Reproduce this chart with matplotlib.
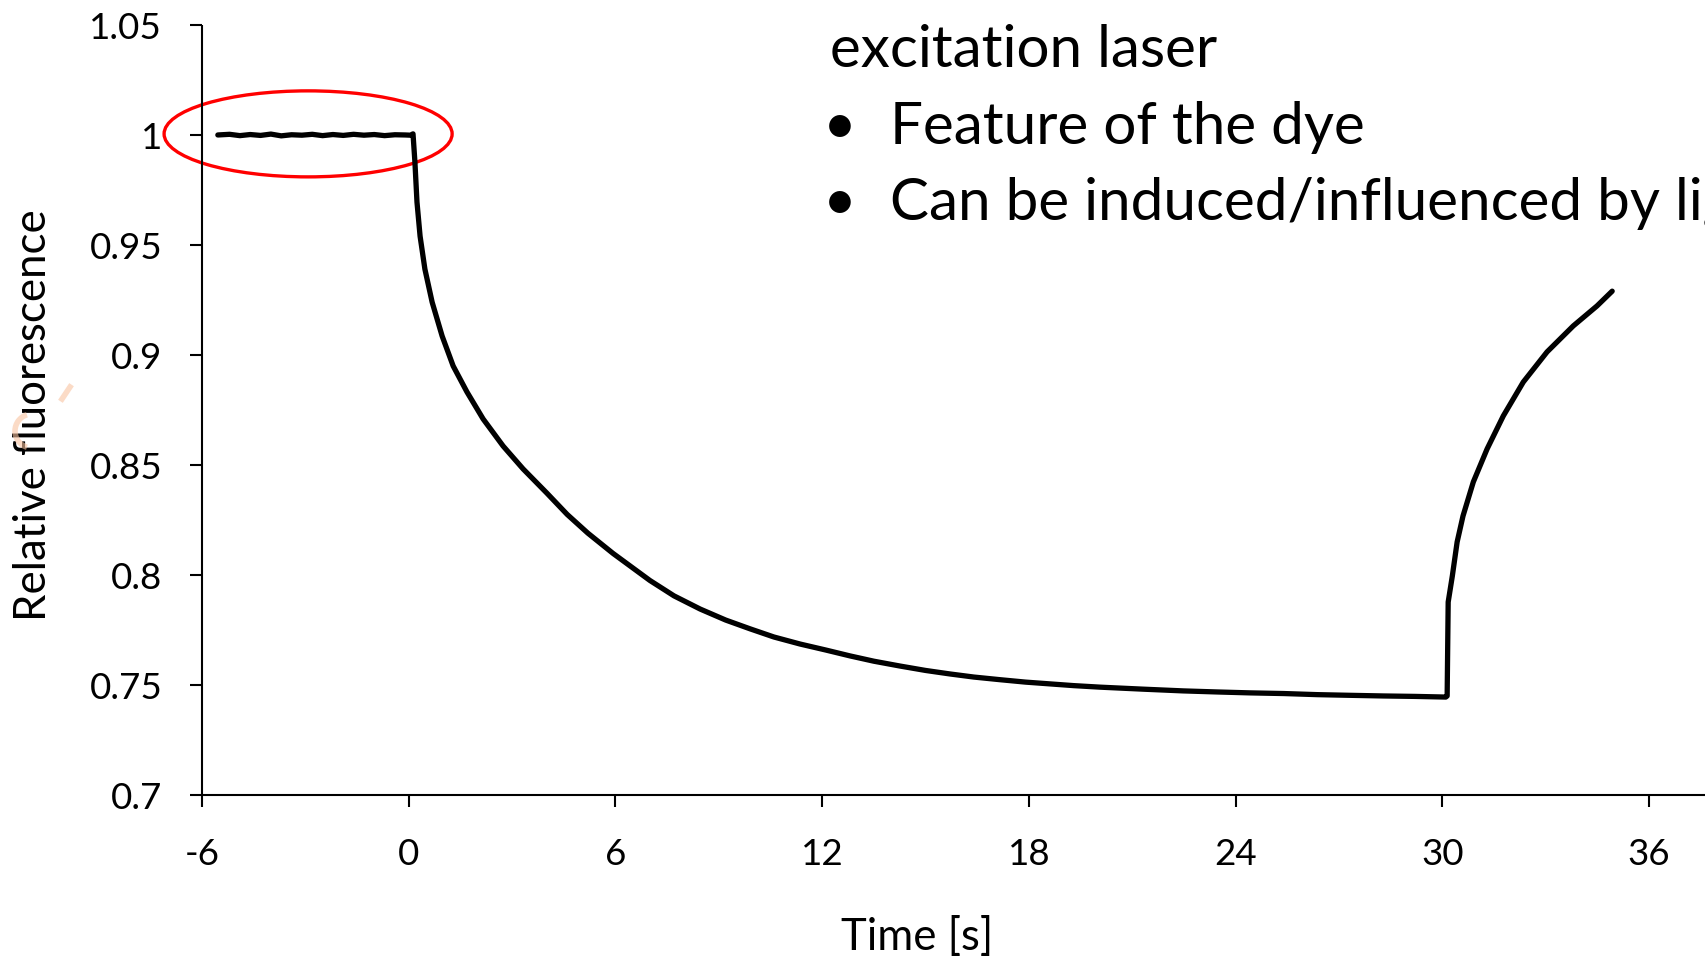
import matplotlib
matplotlib.use("Agg")
import matplotlib.pyplot as plt
from matplotlib.patches import Ellipse, Arc

plt.rcParams["font.family"] = ["Lato", "DejaVu Sans"]
plt.rcParams["axes.unicode_minus"] = False

# photobleaching trace: time [s] and relative fluorescence
time = [-5.54, -5.2, -4.9, -4.6, -4.3, -4.0, -3.7, -3.4, -3.1, -2.8, -2.5, -2.2, -1.9,
        -1.6, -1.3, -1.0, -0.7, -0.4, -0.1, 0.05, 0.125,
        0.18, 0.24, 0.33, 0.47, 0.68, 0.97, 1.29, 1.69, 2.16, 2.74, 3.32, 4.01, 4.6,
        5.2, 5.93, 7.0, 7.7, 8.46, 9.2, 9.91, 10.6, 11.36, 12.1, 12.81, 13.5, 14.26,
        15.0, 15.71, 16.4, 17.16, 17.9, 18.6, 19.3, 20.07, 21.3, 22.48, 23.5, 24.42,
        25.4, 26.37, 27.3, 28.28, 29.2, 30.1,
        30.14, 30.17, 30.29, 30.43, 30.6, 30.9, 31.3, 31.77, 32.35, 33.04, 33.8, 34.49, 34.93]
fluor = [1.0, 1.0003, 0.9997, 1.0002, 0.9998, 1.0004, 0.9996, 1.0001, 0.9999, 1.0003, 0.9997, 1.0002, 0.9998,
         1.0003, 0.9999, 1.0002, 0.9997, 1.0001, 1.0, 0.9999, 1.0005,
         0.9877, 0.9695, 0.954, 0.939, 0.924, 0.9086, 0.895, 0.8832, 0.8709, 0.8586, 0.8482, 0.8372, 0.8275,
         0.819, 0.8098, 0.7975, 0.7905, 0.7845, 0.7795, 0.7755, 0.7718, 0.7686, 0.7659, 0.7632, 0.7608, 0.7586,
         0.7566, 0.755, 0.7536, 0.7524, 0.7513, 0.7505, 0.7497, 0.749, 0.7481, 0.7473, 0.7468, 0.7464,
         0.7461, 0.7456, 0.7453, 0.745, 0.7448, 0.7445,
         0.745, 0.7877, 0.7995, 0.815, 0.8268, 0.8423, 0.8573, 0.8723, 0.8877, 0.9014, 0.9132, 0.9223, 0.929]

x_ticks = [-6, 0, 6, 12, 18, 24, 30, 36]
y_ticks = [0.7, 0.75, 0.8, 0.85, 0.9, 0.95, 1.0, 1.05]
y_tick_labels = ["0.7", "0.75", "0.8", "0.85", "0.9", "0.95", "1", "1.05"]

notes = ["Feature of the dye", "Can be induced/influenced by light"]

fig = plt.figure(figsize=(17.06, 9.62), dpi=100)
ax = fig.add_axes([0.1184, 0.1726, 0.929, 0.8004])

ax.plot(time, fluor, color="black", lw=3.8, solid_capstyle="round", solid_joinstyle="round")

# highlight the pre-illumination baseline
ax.add_patch(Ellipse((-2.92, 1.0005), 8.36, 0.0391, fill=False, edgecolor="#ff0000",
                     lw=2.4, clip_on=False))

ax.set_xlim(-6, 40)
ax.set_ylim(0.7, 1.05)
ax.set_xticks(x_ticks)
ax.set_yticks(y_ticks)
ax.set_yticklabels(y_tick_labels)

for side in ["top", "right"]:
    ax.spines[side].set_visible(False)
for side in ["left", "bottom"]:
    ax.spines[side].set_linewidth(1.5)
    ax.spines[side].set_capstyle("butt")

ax.tick_params(axis="both", direction="out", length=8.6, width=1.5, labelsize=26.5)
ax.tick_params(axis="x", pad=22)
ax.tick_params(axis="y", pad=20)

ax.set_xlabel("Time [s]", fontsize=31.5, va="center")
ax.xaxis.set_label_coords(0.451, -0.184)
ax.set_ylabel("Relative fluorescence", fontsize=31.5, va="center")
ax.yaxis.set_label_coords(-0.1066, 0.495)

# slide text, the last bullet runs off the right edge of the slide
fig.text(830 / 1706, 1 - 67 / 962, "excitation laser", fontsize=42, va="baseline")
for i, note in enumerate(notes):
    y = 1 - (144 + 76 * i) / 962
    fig.text(840 / 1706, y, "\u2022", fontsize=42, va="baseline", ha="center")
    fig.text(890 / 1706, y, note, fontsize=42, va="baseline")

# faint logo remnant behind the y label
fig.patches.append(Arc((32 / 1706, 1 - 432 / 962), 34 / 1706, 34 / 962, theta1=100, theta2=260,
                       transform=fig.transFigure, color="#f9c3a0", alpha=0.6, lw=4))
fig.lines.append(plt.Line2D([62 / 1706, 70 / 1706], [1 - 400 / 962, 1 - 388 / 962],
                            transform=fig.transFigure, color="#f9c3a0", alpha=0.6, lw=4))

fig.savefig("out.png", dpi=100)
